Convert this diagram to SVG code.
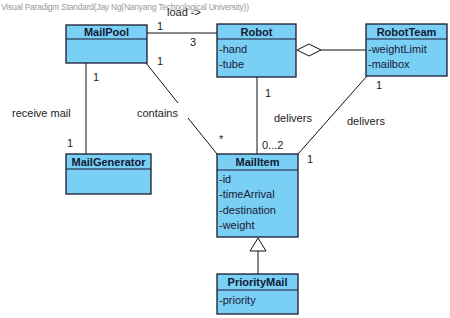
<svg xmlns="http://www.w3.org/2000/svg" width="450" height="318" viewBox="0 0 450 318">
  <style>
    .box { fill: #7acff5; stroke: #1a1a2e; stroke-width: 1.3; }
    .sep { stroke: #1a1a2e; stroke-width: 1.1; }
    .title { font-family: "Liberation Sans", Arial, sans-serif; font-size: 11px; font-weight: bold; fill: #0f1a33; text-anchor: middle; }
    .attr { font-family: "Liberation Sans", Arial, sans-serif; font-size: 11px; fill: #1a1a33; }
    .lbl { font-family: "Liberation Sans", Arial, sans-serif; font-size: 11px; fill: #222; }
    .wm { font-family: "Liberation Sans", Arial, sans-serif; font-size: 8.5px; fill: #999; }
    .edge { stroke: #111; stroke-width: 1; fill: none; }
  </style>
  <rect width="450" height="318" fill="#ffffff"/>
  <text class="wm" x="1" y="10" textLength="248">Visual Paradigm Standard(Jay Ng(Nanyang Technological University))</text>

  <g id="connectors">
    <!-- MailPool - Robot -->
    <line class="edge" x1="147" y1="33" x2="217" y2="33"/>
    <!-- Robot - RobotTeam aggregation -->
    <line class="edge" x1="321" y1="50" x2="366" y2="50"/>
    <polygon points="297,50 309,44 321,50 309,56" fill="#fff" stroke="#111" stroke-width="1"/>
    <!-- MailPool - MailGenerator -->
    <line class="edge" x1="86" y1="63" x2="86" y2="154"/>
    <!-- MailPool - MailItem (contains) -->
    <line class="edge" x1="146" y1="63" x2="178" y2="103"/>
    <line class="edge" x1="188" y1="118" x2="217" y2="154"/>
    <!-- Robot - MailItem -->
    <line class="edge" x1="257" y1="77" x2="257" y2="154"/>
    <!-- RobotTeam - MailItem -->
    <line class="edge" x1="367" y1="76" x2="298" y2="154"/>
    <!-- Generalization PriorityMail -> MailItem -->
    <line class="edge" x1="258" y1="251" x2="258" y2="274"/>
    <polygon points="258,238 250,251 266,251" fill="#fff" stroke="#111" stroke-width="1"/>

    <text class="lbl" x="167" y="16">load -&gt;</text>
    <text class="lbl" x="157" y="30">1</text>
    <text class="lbl" x="190" y="46">3</text>
    <text class="lbl" x="157" y="65">1</text>
    <text class="lbl" x="93" y="81">1</text>
    <text class="lbl" x="12" y="117">receive mail</text>
    <text class="lbl" x="67" y="147">1</text>
    <text class="lbl" x="137" y="117">contains</text>
    <text class="lbl" x="219" y="143">*</text>
    <text class="lbl" x="265" y="97">1</text>
    <text class="lbl" x="274" y="122">delivers</text>
    <text class="lbl" x="262" y="149">0...2</text>
    <text class="lbl" x="376" y="89">1</text>
    <text class="lbl" x="347" y="125">delivers</text>
    <text class="lbl" x="307" y="163">1</text>
  </g>

  <g id="MailPool">
    <rect class="box" x="66" y="25" width="81" height="38"/>
    <line class="sep" x1="66" y1="39" x2="147" y2="39"/>
    <text class="title" x="106.5" y="36">MailPool</text>
  </g>

  <g id="Robot">
    <rect class="box" x="217" y="24" width="79" height="53"/>
    <line class="sep" x1="217" y1="39" x2="296" y2="39"/>
    <text class="title" x="256.5" y="36">Robot</text>
    <text class="attr" x="219" y="53">-hand</text>
    <text class="attr" x="219" y="68">-tube</text>
  </g>

  <g id="RobotTeam">
    <rect class="box" x="366" y="24" width="81" height="52"/>
    <line class="sep" x1="366" y1="39" x2="447" y2="39"/>
    <text class="title" x="406.5" y="36">RobotTeam</text>
    <text class="attr" x="368" y="53">-weightLimit</text>
    <text class="attr" x="368" y="68">-mailbox</text>
  </g>

  <g id="MailGenerator">
    <rect class="box" x="66" y="154" width="85" height="40"/>
    <line class="sep" x1="66" y1="169" x2="151" y2="169"/>
    <text class="title" x="108.5" y="166">MailGenerator</text>
  </g>

  <g id="MailItem">
    <rect class="box" x="217" y="154" width="81" height="83"/>
    <line class="sep" x1="217" y1="170" x2="298" y2="170"/>
    <text class="title" x="257.5" y="166">MailItem</text>
    <text class="attr" x="219" y="183">-id</text>
    <text class="attr" x="219" y="198">-timeArrival</text>
    <text class="attr" x="219" y="214">-destination</text>
    <text class="attr" x="219" y="229">-weight</text>
  </g>

  <g id="PriorityMail">
    <rect class="box" x="217" y="274" width="81" height="40"/>
    <line class="sep" x1="217" y1="290" x2="298" y2="290"/>
    <text class="title" x="257.5" y="286">PriorityMail</text>
    <text class="attr" x="219" y="304">-priority</text>
  </g>
</svg>
